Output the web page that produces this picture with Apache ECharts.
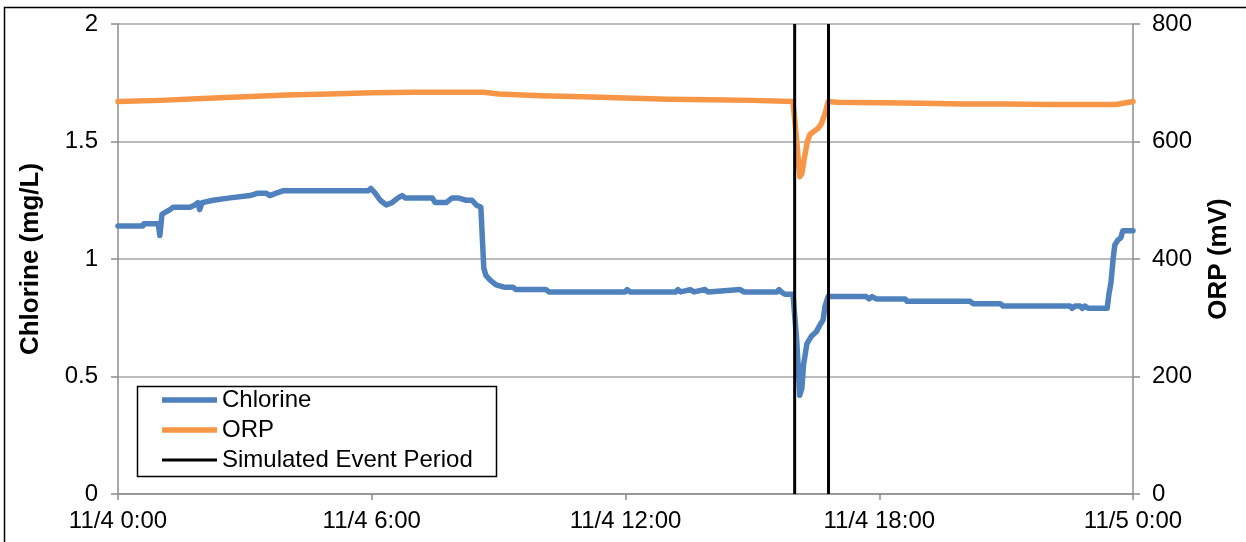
<!DOCTYPE html>
<html>
<head>
<meta charset="utf-8">
<script src="https://cdn.jsdelivr.net/npm/echarts@6/dist/echarts.min.js"></script>
<style>
html,body{margin:0;padding:0;background:#fff;}
#chart{width:1246px;height:542px;}
</style>
</head>
<body>
<div id="chart"></div>
<script>
// x values are hours since 11/4 0:00
const xTickLabels = {0:'11/4 0:00', 6:'11/4 6:00', 12:'11/4 12:00', 18:'11/4 18:00', 24:'11/5 0:00'};

const chlorineHours = [0,0.59,0.61,0.95,0.99,1.04,1.13,1.23,1.30,1.70,1.82,1.89,1.93,1.99,2.25,2.65,3.12,3.31,3.50,3.59,3.74,3.90,5.91,5.98,6.08,6.20,6.34,6.48,6.62,6.72,6.79,7.43,7.50,7.76,7.90,8.04,8.23,8.37,8.47,8.58,8.62,8.65,8.70,8.80,8.94,9.13,9.34,9.41,10.12,10.19,11.99,12.04,12.11,13.19,13.24,13.31,13.53,13.62,13.88,13.95,14.71,14.80,15.58,15.63,15.68,15.77,15.96,16.05,16.12,16.17,16.21,16.29,16.39,16.51,16.60,16.67,16.72,16.79,17.69,17.76,17.83,17.93,18.61,18.66,20.15,20.22,20.86,20.93,22.51,22.56,22.63,22.75,22.80,22.86,22.94,23.39,23.43,23.48,23.53,23.57,23.64,23.71,23.76,24];
const chlorineValues = [1.14,1.14,1.15,1.15,1.10,1.19,1.20,1.21,1.22,1.22,1.23,1.24,1.21,1.24,1.25,1.26,1.27,1.28,1.28,1.27,1.28,1.29,1.29,1.30,1.28,1.25,1.23,1.24,1.26,1.27,1.26,1.26,1.24,1.24,1.26,1.26,1.25,1.25,1.23,1.22,1.22,0.96,0.93,0.91,0.89,0.88,0.88,0.87,0.87,0.86,0.86,0.87,0.86,0.86,0.87,0.86,0.87,0.86,0.87,0.86,0.87,0.86,0.86,0.87,0.86,0.85,0.85,0.65,0.42,0.45,0.55,0.64,0.67,0.69,0.72,0.74,0.80,0.84,0.84,0.83,0.84,0.83,0.83,0.82,0.82,0.81,0.81,0.80,0.80,0.79,0.80,0.80,0.79,0.80,0.79,0.79,0.85,0.90,1.00,1.06,1.08,1.09,1.12,1.12];

const orpHours = [0,1,2,3,4,5,6,7,8,8.65,9,10,11,12,13,14,15,15.96,16.05,16.12,16.17,16.22,16.30,16.36,16.45,16.55,16.63,16.72,16.79,17,18,19,20,21,22,23,23.6,24];
const orpValues = [668,670,673,676,679,681,683,684,684,684,681,678,676,674,672,671,670,668,600,540,545,568,600,612,617,622,630,648,668,667,666,665,664,664,663,663,663,668];

const eventStart = 16.0;
const eventEnd = 16.8;

const pair = (xs, ys) => xs.map((x, i) => [x, ys[i]]);
const eventData = [[eventStart, 0], [eventStart, 2], [null, null], [eventEnd, 0], [eventEnd, 2]];

const FONT = 'Liberation Sans, Arial, sans-serif';
const thickIcon = 'path://M0,0M55,14M0,4.25L55,4.25L55,9.75L0,9.75Z';
const thinIcon = 'path://M0,0M55,14M0,5.5L55,5.5L55,8.5L0,8.5Z';

const chart = echarts.init(document.getElementById('chart'), null, {renderer: 'canvas'});
chart.setOption({
  animation: false,
  backgroundColor: '#fff',
  textStyle: {fontFamily: FONT},
  grid: {left: 118, right: 113, top: 24, bottom: 48, containLabel: false},
  graphic: [
    {type: 'rect', shape: {x: 4.5, y: 7.5, width: 1300, height: 600}, style: {fill: null, stroke: '#000', lineWidth: 1.5}, silent: true, z: -10},
    {type: 'rect', shape: {x: 137.5, y: 386.5, width: 359, height: 90}, style: {fill: '#fff', stroke: '#000', lineWidth: 1.5}, silent: true, z: 50}
  ],
  legend: {
    orient: 'vertical', left: 162, top: 385, padding: 0, itemGap: 0,
    itemWidth: 55, itemHeight: 14, z: 60,
    textStyle: {fontSize: 24, color: '#000', fontFamily: FONT, lineHeight: 30},
    data: [
      {name: 'Chlorine', icon: thickIcon},
      {name: 'ORP', icon: thickIcon},
      {name: 'Simulated Event Period', icon: thinIcon}
    ]
  },
  xAxis: {
    type: 'value', min: 0, max: 24, interval: 6,
    axisLine: {lineStyle: {color: '#8c8c8c', width: 1.5}},
    axisTick: {show: true, length: 6, lineStyle: {color: '#8c8c8c', width: 1.5}},
    splitLine: {show: false},
    axisLabel: {fontSize: 24, color: '#000', margin: 15, fontFamily: FONT, formatter: v => xTickLabels[v] || ''}
  },
  yAxis: [
    {
      type: 'value', min: 0, max: 2, interval: 0.5, position: 'left',
      name: 'Chlorine (mg/L)', nameLocation: 'middle', nameGap: 74, nameRotate: 90,
      nameTextStyle: {fontSize: 26, fontWeight: 'bold', color: '#000', fontFamily: FONT},
      axisLine: {show: true, lineStyle: {color: '#8c8c8c', width: 1.5}},
      axisTick: {show: true, length: 7, lineStyle: {color: '#8c8c8c', width: 1.5}},
      splitLine: {show: true, lineStyle: {color: '#a6a6a6', width: 1.5}},
      axisLabel: {fontSize: 24, color: '#000', margin: 20, formatter: v => String(v)}
    },
    {
      type: 'value', min: 0, max: 800, interval: 200, position: 'right',
      name: 'ORP (mV)', nameLocation: 'middle', nameGap: 73, nameRotate: 90,
      nameTextStyle: {fontSize: 26, fontWeight: 'bold', color: '#000', fontFamily: FONT},
      axisLine: {show: true, lineStyle: {color: '#8c8c8c', width: 1.5}},
      axisTick: {show: true, length: 7, lineStyle: {color: '#8c8c8c', width: 1.5}},
      splitLine: {show: false},
      axisLabel: {fontSize: 24, color: '#000', margin: 19}
    }
  ],
  series: [
    {name: 'Chlorine', type: 'line', yAxisIndex: 0, data: pair(chlorineHours, chlorineValues), symbol: 'none', showSymbol: false,
     lineStyle: {color: '#4f81bd', width: 5.5, join: 'round', cap: 'round'}, itemStyle: {color: '#4f81bd'}, z: 3},
    {name: 'ORP', type: 'line', yAxisIndex: 1, data: pair(orpHours, orpValues), symbol: 'none', showSymbol: false,
     lineStyle: {color: '#f79646', width: 5.5, join: 'round', cap: 'round'}, itemStyle: {color: '#f79646'}, z: 3},
    {name: 'Simulated Event Period', type: 'line', yAxisIndex: 0, data: eventData, symbol: 'none', showSymbol: false, connectNulls: false,
     lineStyle: {color: '#000', width: 3}, itemStyle: {color: '#000'}, z: 4}
  ]
});
</script>
</body>
</html>
